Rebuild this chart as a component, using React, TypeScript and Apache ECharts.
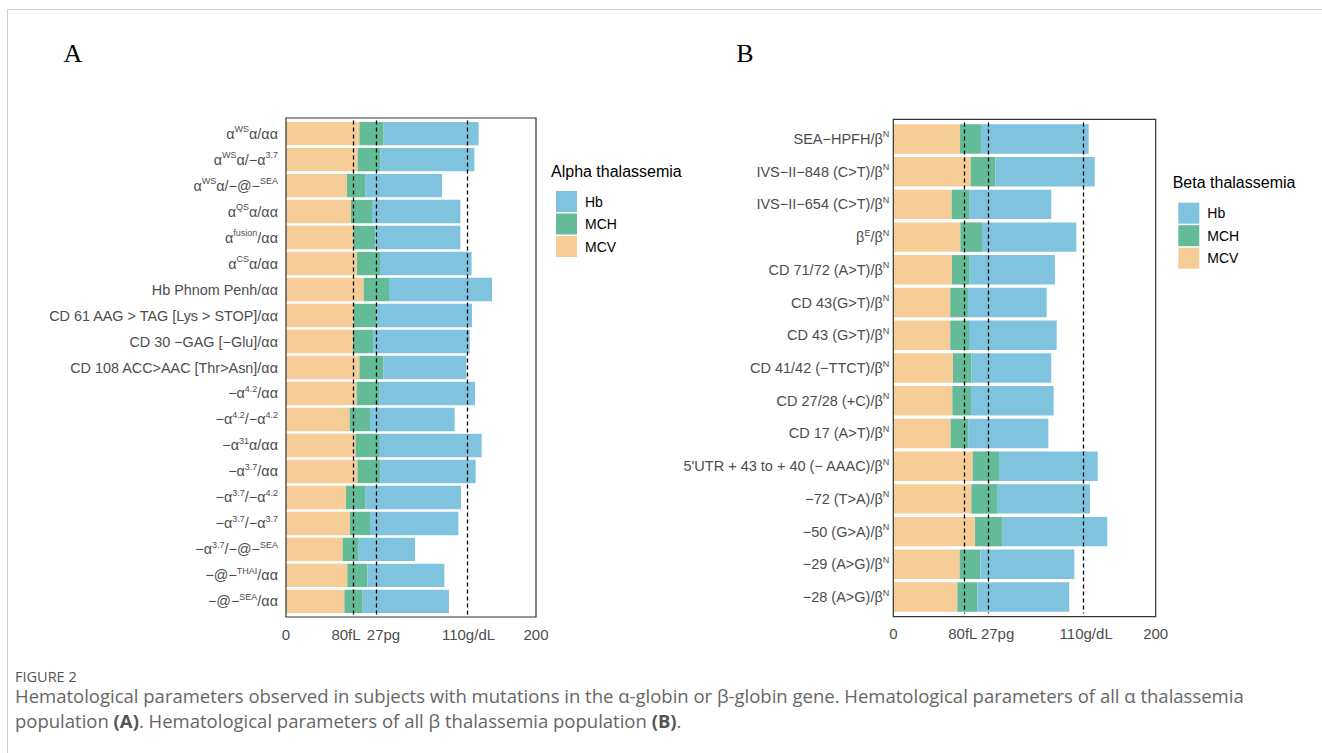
import React, { useEffect, useRef } from "react";
import * as echarts from "echarts";

// ---------- DATA ----------
const categoriesA = [
  "α{s|WS}α/αα",
  "α{s|WS}α/−α{s|3.7}",
  "α{s|WS}α/−@−{s|SEA}",
  "α{s|QS}α/αα",
  "α{s|fusion}/αα",
  "α{s|CS}α/αα",
  "Hb Phnom Penh/αα",
  "CD 61 AAG > TAG [Lys > STOP]/αα",
  "CD 30 −GAG [−Glu]/αα",
  "CD 108 ACC>AAC [Thr>Asn]/αα",
  "−α{s|4.2}/αα",
  "−α{s|4.2}/−α{s|4.2}",
  "−α{s|31}α/αα",
  "−α{s|3.7}/αα",
  "−α{s|3.7}/−α{s|4.2}",
  "−α{s|3.7}/−α{s|3.7}",
  "−α{s|3.7}/−@−{s|SEA}",
  "−@−{s|THAI}/αα",
  "−@−{s|SEA}/αα",
];
const mcvA = [58.7, 57.3, 48.8, 52.0, 53.9, 56.8, 62.1, 54.4, 53.6, 58.7, 56.5, 50.9, 55.7, 57.1, 48.0, 51.2, 45.3, 49.1, 46.7];
const mchA = [19.4, 18.4, 14.9, 16.8, 17.6, 18.4, 20.3, 17.9, 16.0, 19.2, 18.4, 16.3, 18.7, 18.6, 15.7, 16.0, 12.8, 16.0, 14.6];
const hbA = [76.0, 75.0, 61.1, 70.7, 68.0, 73.3, 82.4, 76.5, 77.3, 66.4, 76.3, 67.7, 82.1, 76.0, 76.3, 70.7, 45.1, 61.6, 69.1];

const categoriesB = [
  "SEA−HPFH/β{s|N}",
  "IVS−II−848 (C>T)/β{s|N}",
  "IVS−II−654 (C>T)/β{s|N}",
  "β{s|E}/β{s|N}",
  "CD 71/72 (A>T)/β{s|N}",
  "CD 43(G>T)/β{s|N}",
  "CD 43 (G>T)/β{s|N}",
  "CD 41/42 (−TTCT)/β{s|N}",
  "CD 27/28 (+C)/β{s|N}",
  "CD 17 (A>T)/β{s|N}",
  "5'UTR + 43 to + 40 (− AAAC)/β{s|N}",
  "−72 (T>A)/β{s|N}",
  "−50 (G>A)/β{s|N}",
  "−29 (A>G)/β{s|N}",
  "−28 (A>G)/β{s|N}",
];
const mcvB = [50.8, 59.0, 44.5, 51.1, 44.7, 43.4, 43.4, 45.5, 45.0, 43.7, 60.5, 59.5, 62.3, 50.6, 48.8];
const mchB = [16.0, 18.8, 13.7, 16.5, 13.5, 13.5, 14.3, 14.0, 14.2, 13.7, 20.1, 19.5, 20.6, 15.7, 15.2];
const hbB = [82.1, 75.7, 62.2, 71.9, 65.0, 60.0, 66.8, 60.9, 63.0, 60.8, 75.2, 70.9, 80.2, 71.7, 70.1];

const thresholds = [54, 72, 145];
const tickLabels = ["0", "80fL", "27pg", "110g/dL", "200"];
const tickPosA = [0, 48, 78, 146, 200];
const tickPosB = [0, 53, 79.5, 147, 200];
const legendNames = ["Hb", "MCH", "MCV"];

// ---------- STYLE ----------
const COLORS: Record<string, string> = { MCV: "#F6CD96", MCH: "#64BB98", Hb: "#80C3DE" };
const FONT = "'Liberation Sans', Arial, Helvetica, sans-serif";
const CAPFONT = "'Open Sans', 'Noto Sans', sans-serif";
const GREY = "#4d4d4d";

function makeXAxis(grid: number, pos: number[]) {
  return {
    gridIndex: grid,
    type: "value",
    min: 0,
    max: 200,
    axisLine: { show: false },
    axisTick: { show: false },
    splitLine: { show: false },
    axisLabel: {
      customValues: pos,
      fontSize: 15,
      color: GREY,
      margin: 13,
      fontFamily: FONT,
      formatter: (v: number) => {
        const i = pos.indexOf(v);
        return i >= 0 ? tickLabels[i] : "";
      },
    },
  };
}

function makeYAxis(grid: number, cats: string[], fontSize: number, margin: number) {
  return {
    gridIndex: grid,
    type: "category",
    data: cats,
    inverse: true,
    axisLine: { show: false },
    axisTick: { show: false },
    splitLine: { show: false },
    axisLabel: {
      fontSize,
      color: GREY,
      margin,
      fontFamily: FONT,
      lineHeight: 18,
      formatter: (v: string) => v,
      rich: {
        s: { fontSize: 9, color: GREY, verticalAlign: "top", lineHeight: 10, fontFamily: FONT },
      },
    },
  };
}

function makeSeries(idx: number, stack: string, mcv: number[], mch: number[], hb: number[]) {
  const base = { type: "bar", xAxisIndex: idx, yAxisIndex: idx, stack, barCategoryGap: "10%" };
  return [
    { ...base, name: "MCV", data: mcv, itemStyle: { color: COLORS.MCV } },
    { ...base, name: "MCH", data: mch, itemStyle: { color: COLORS.MCH } },
    {
      ...base,
      name: "Hb",
      data: hb,
      itemStyle: { color: COLORS.Hb },
      markLine: {
        silent: true,
        symbol: "none",
        label: { show: false },
        lineStyle: { color: "#000", type: [4, 3], width: 1.3 },
        data: thresholds.map((t) => ({ xAxis: t })),
      },
    },
  ];
}

function makeLegend(left: number, top: number) {
  return {
    data: legendNames,
    orient: "vertical",
    left,
    top,
    itemWidth: 21,
    itemHeight: 21,
    itemGap: 1.5,
    icon: "rect",
    selectedMode: false,
    textStyle: { fontSize: 14, color: "#000", fontFamily: FONT, padding: [0, 0, 0, 3] },
  };
}

export default function App() {
  const ref = useRef<HTMLDivElement>(null);
  useEffect(() => {
    if (!ref.current) return;
    const chart = echarts.init(ref.current, null, { renderer: "svg" });
    const option: any = {
      animation: false,
      backgroundColor: "#fff",
      textStyle: { fontFamily: FONT },
      grid: [
        { left: 286, top: 120.6, width: 250, height: 493.8 },
        { left: 893.3, top: 122.6, width: 262.4, height: 490.8 },
      ],
      xAxis: [makeXAxis(0, tickPosA), makeXAxis(1, tickPosB)],
      yAxis: [makeYAxis(0, categoriesA, 14.4, 8), makeYAxis(1, categoriesB, 14.5, 4)],
      legend: [makeLegend(551, 186), makeLegend(1173.3, 197.7)],
      series: [
        ...makeSeries(0, "A", mcvA, mchA, hbA),
        ...makeSeries(1, "B", mcvB, mchB, hbB),
      ],
      graphic: [
        {
          type: "rect",
          z: 0,
          shape: { x: 7.5, y: 9.5, width: 1400, height: 800 },
          style: { fill: "none", stroke: "#d0d0d0", lineWidth: 1 },
        },
        {
          type: "rect",
          z: 100,
          shape: { x: 286, y: 118, width: 250, height: 499 },
          style: { fill: "none", stroke: "#333", lineWidth: 1.2 },
        },
        {
          type: "rect",
          z: 100,
          shape: { x: 893.3, y: 119.3, width: 262.4, height: 497.4 },
          style: { fill: "none", stroke: "#333", lineWidth: 1.2 },
        },
        {
          type: "text",
          x: 73,
          y: 53,
          style: { text: "A", fontSize: 26, fontFamily: "'Liberation Serif', 'Times New Roman', serif", fill: "#000", textAlign: "center", textVerticalAlign: "middle" },
        },
        {
          type: "text",
          x: 745,
          y: 53,
          style: { text: "B", fontSize: 26, fontFamily: "'Liberation Serif', 'Times New Roman', serif", fill: "#000", textAlign: "center", textVerticalAlign: "middle" },
        },
        {
          type: "text",
          x: 551,
          y: 171.7,
          style: { text: "Alpha thalassemia", fontSize: 16, fontFamily: FONT, fill: "#000", textVerticalAlign: "middle" },
        },
        {
          type: "text",
          x: 1172.7,
          y: 182.7,
          style: { text: "Beta thalassemia", fontSize: 16, fontFamily: FONT, fill: "#000", textVerticalAlign: "middle" },
        },
        {
          type: "text",
          x: 15,
          y: 676,
          style: { text: "FIGURE 2", fontSize: 14.5, fontFamily: CAPFONT, fill: "#555", textVerticalAlign: "middle" },
        },
        {
          type: "text",
          x: 15,
          y: 695.5,
          style: {
            text: "Hematological parameters observed in subjects with mutations in the α-globin or β-globin gene. Hematological parameters of all α thalassemia",
            fontSize: 18.5,
            fontFamily: CAPFONT,
            fill: "#666",
            textVerticalAlign: "middle",
          },
        },
        {
          type: "text",
          x: 15,
          y: 720.5,
          style: {
            text: "population {b|(A)}. Hematological parameters of all β thalassemia population {b|(B)}.",
            fontSize: 18.5,
            fontFamily: CAPFONT,
            fill: "#666",
            textVerticalAlign: "middle",
            rich: { b: { fontSize: 18.5, fontWeight: "bold", fontFamily: CAPFONT, fill: "#555" } },
          },
        },
      ],
    };
    chart.setOption(option);
    return () => chart.dispose();
  }, []);
  return <div ref={ref} style={{ position: "fixed", left: 0, top: 0, width: 1322, height: 753 }} />;
}
